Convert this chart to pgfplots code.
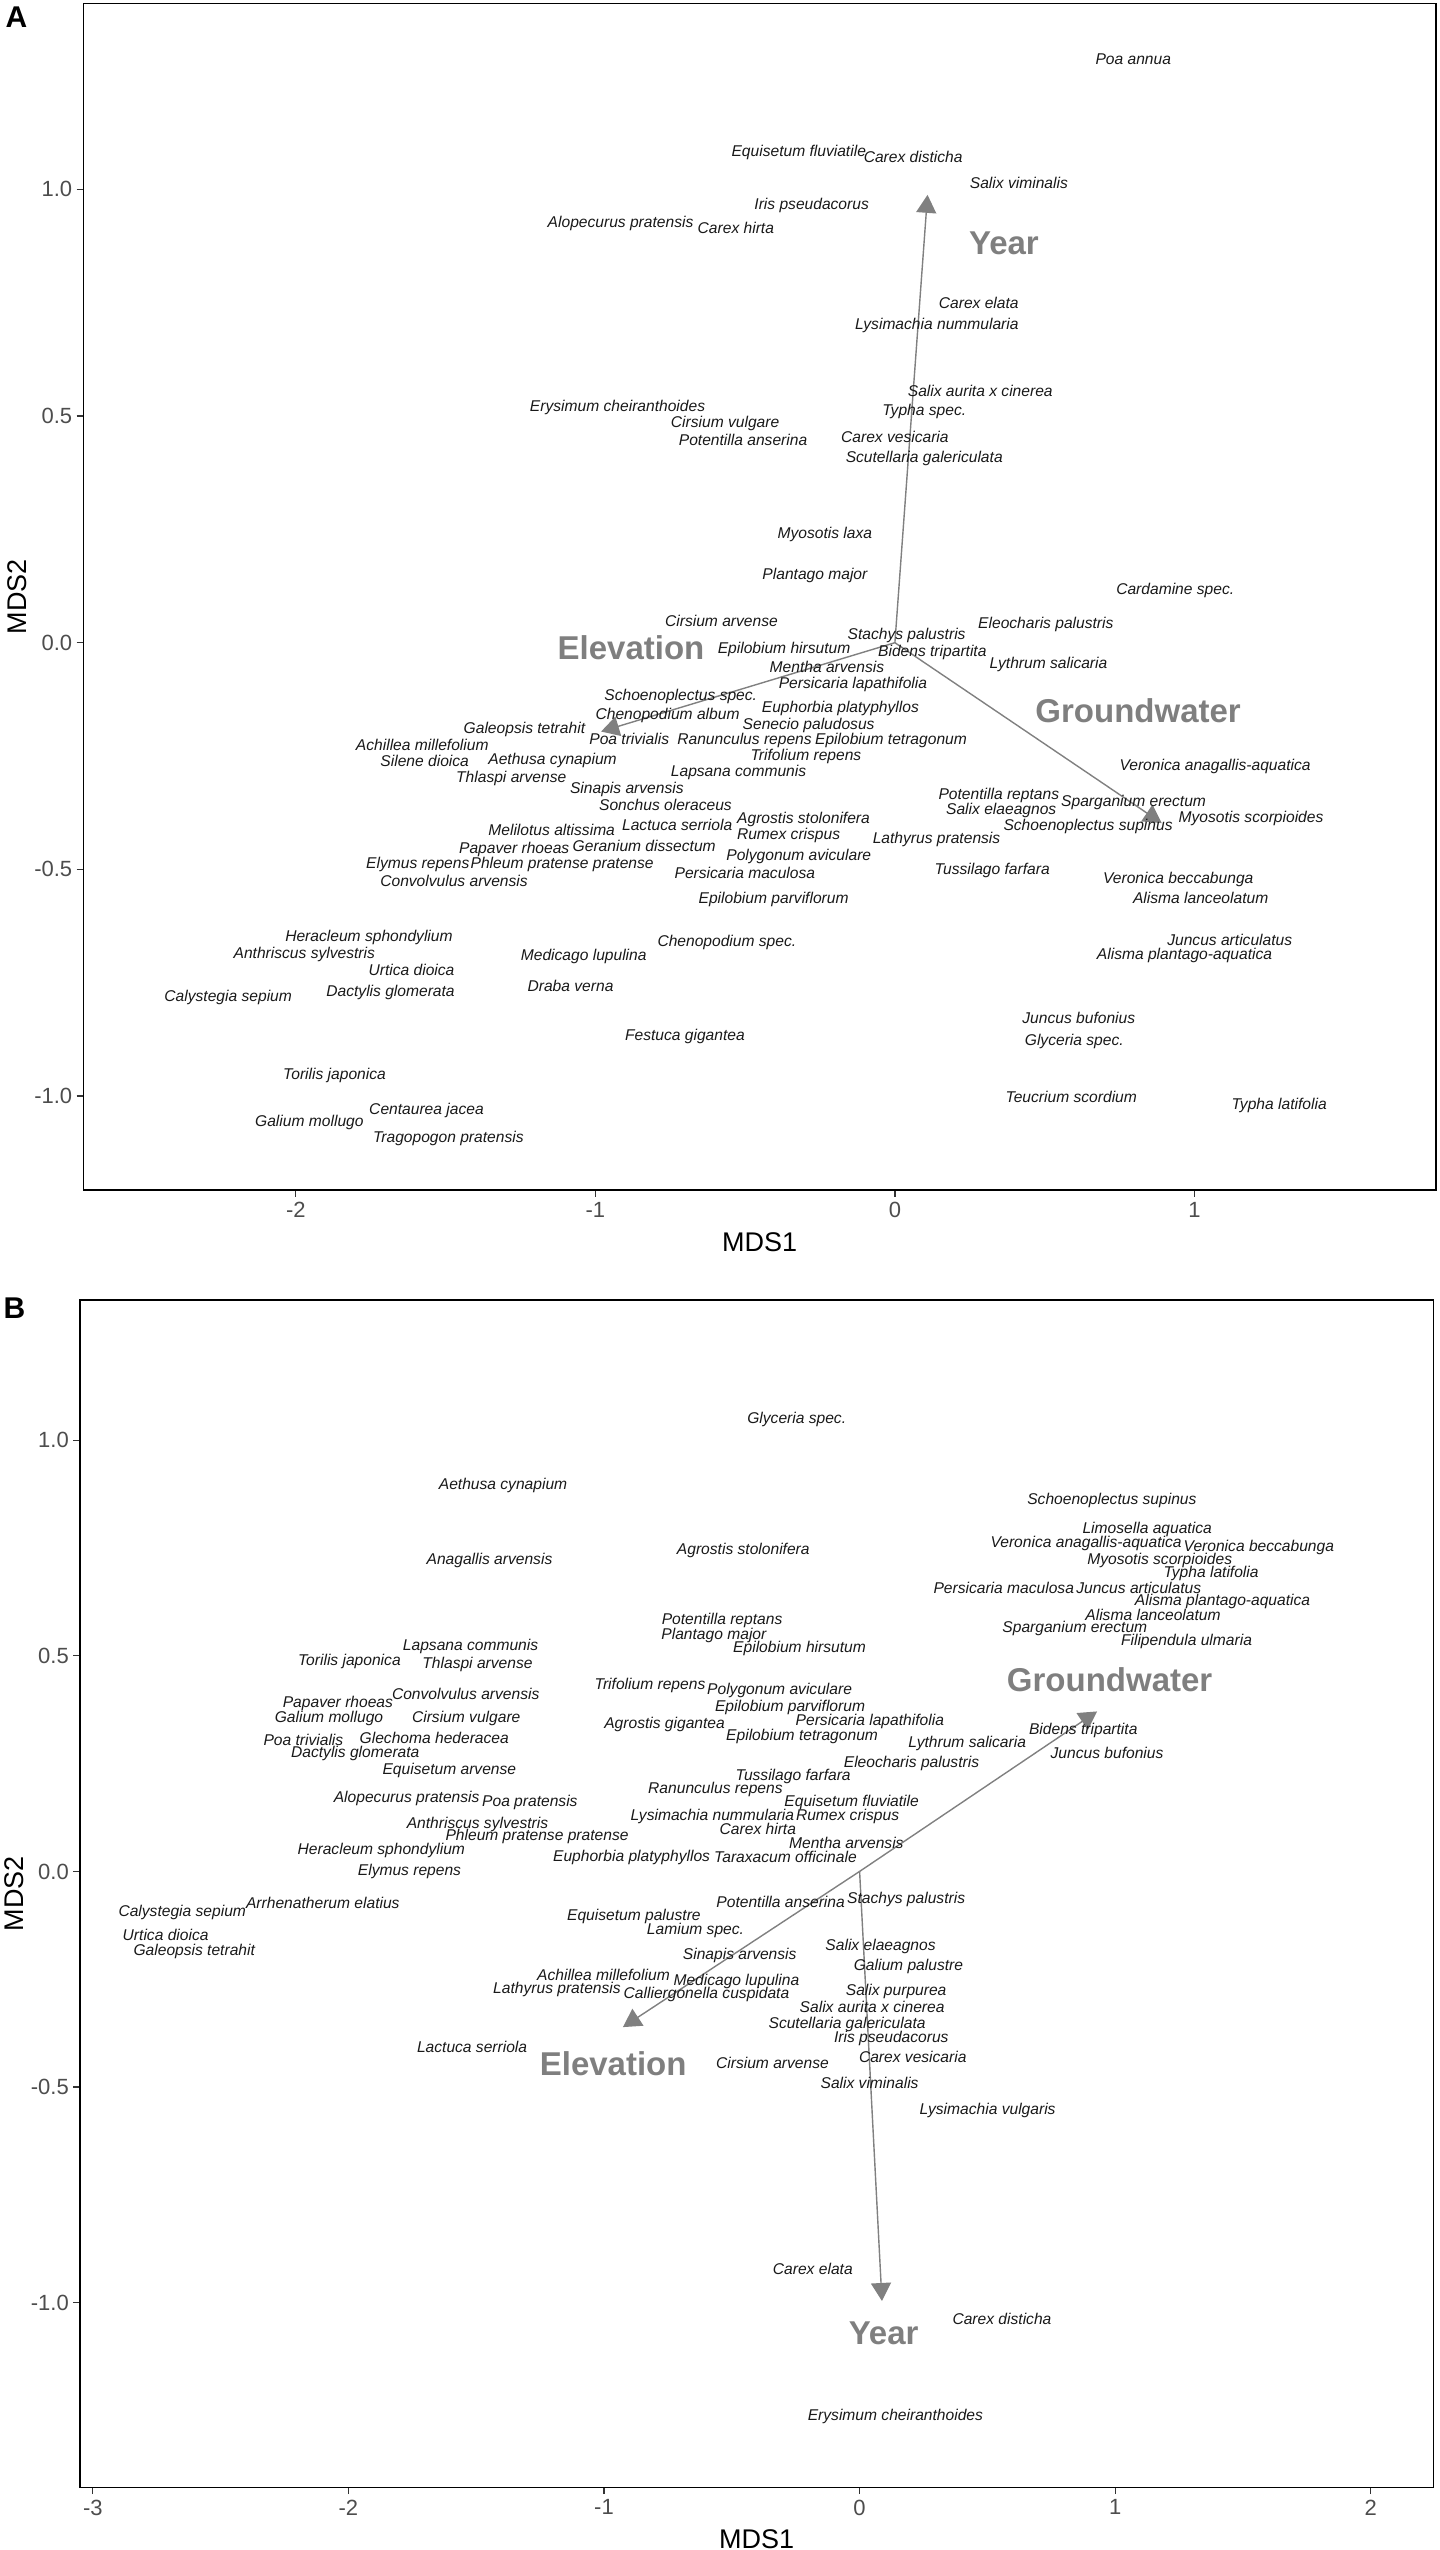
\documentclass[border=0pt]{standalone}
\usepackage{pgfplots}
\pgfplotsset{compat=1.18}
\usepackage{pgfplotstable}
\usepackage{fontspec}
\setmainfont{Liberation Sans}
\usetikzlibrary{arrows.meta}
\definecolor{arrowgray}{HTML}{808080}
\definecolor{labgray}{HTML}{7F7F7F}
\definecolor{tickgray}{HTML}{4D4D4D}

\pgfplotstableread[col sep=comma,row sep=\\]{
x,y,name\\
-0.916,0.924,Alopecurus pratensis\\
-0.531,0.915,Carex hirta\\
-0.321,1.081,Equisetum fluviatile\\
0.061,1.071,Carex disticha\\
-0.278,0.964,Iris pseudacorus\\
0.414,1.015,Salix viminalis\\
0.796,1.287,Poa annua\\
-0.926,0.519,Erysimum cheiranthoides\\
-0.567,0.484,Cirsium vulgare\\
-0.507,0.447,Potentilla anserina\\
0.285,0.556,Salix aurita x cinerea\\
0.098,0.510,Typha spec.\\
0.280,0.749,Carex elata\\
0.140,0.699,Lysimachia nummularia\\
0.000,0.455,Carex vesicaria\\
0.098,0.407,Scutellaria galericulata\\
-0.234,0.239,Myosotis laxa\\
-0.267,0.149,Plantago major\\
0.936,0.115,Cardamine spec.\\
0.504,0.041,Eleocharis palustris\\
0.039,0.016,Stachys palustris\\
0.125,-0.021,Bidens tripartita\\
0.513,-0.049,Lythrum salicaria\\
-0.579,0.047,Cirsium arvense\\
-0.370,-0.016,Epilobium hirsutum\\
-0.227,-0.054,Mentha arvensis\\
-0.140,-0.092,Persicaria lapathifolia\\
-0.715,-0.118,Schoenoplectus spec.\\
-0.182,-0.146,Euphorbia platyphyllos\\
-0.759,-0.160,Chenopodium album\\
-0.288,-0.182,Senecio paludosus\\
-1.237,-0.191,Galeopsis tetrahit\\
-0.887,-0.213,Poa trivialis\\
-0.502,-0.216,Ranunculus repens\\
-0.013,-0.216,Epilobium tetragonum\\
-1.578,-0.226,Achillea millefolium\\
-0.297,-0.250,Trifolium repens\\
-1.570,-0.260,Silene dioica\\
-1.143,-0.260,Aethusa cynapium\\
-0.522,-0.287,Lapsana communis\\
-1.281,-0.300,Thlaspi arvense\\
-0.895,-0.323,Sinapis arvensis\\
-0.766,-0.359,Sonchus oleraceus\\
1.069,-0.272,Veronica anagallis-aquatica\\
0.347,-0.338,Potentilla reptans\\
0.797,-0.353,Sparganium erectum\\
0.355,-0.371,Salix elaeagnos\\
1.189,-0.387,Myosotis scorpioides\\
0.645,-0.406,Schoenoplectus supinus\\
-0.305,-0.390,Agrostis stolonifera\\
-0.727,-0.402,Lactuca serriola\\
-1.146,-0.413,Melilotus altissima\\
-0.355,-0.426,Rumex crispus\\
0.139,-0.434,Lathyrus pratensis\\
-1.271,-0.457,Papaver rhoeas\\
-0.837,-0.449,Geranium dissectum\\
-0.321,-0.472,Polygonum aviculare\\
0.325,-0.503,Tussilago farfara\\
-1.593,-0.490,Elymus repens\\
-1.111,-0.490,Phleum pratense pratense\\
-0.501,-0.509,Persicaria maculosa\\
0.946,-0.522,Veronica beccabunga\\
-1.472,-0.525,Convolvulus arvensis\\
1.021,-0.562,Alisma lanceolatum\\
-0.405,-0.566,Epilobium parviflorum\\
-1.756,-0.650,Heracleum sphondylium\\
-0.561,-0.662,Chenopodium spec.\\
1.118,-0.656,Juncus articulatus\\
-1.972,-0.687,Anthriscus sylvestris\\
-1.039,-0.693,Medicago lupulina\\
0.967,-0.691,Alisma plantago-aquatica\\
-1.614,-0.721,Urtica dioica\\
-1.083,-0.757,Draba verna\\
-1.684,-0.772,Dactylis glomerata\\
-2.226,-0.783,Calystegia sepium\\
0.614,-0.827,Juncus bufonius\\
-0.701,-0.868,Festuca gigantea\\
0.599,-0.879,Glyceria spec.\\
-1.871,-0.955,Torilis japonica\\
0.589,-1.003,Teucrium scordium\\
1.283,-1.022,Typha latifolia\\
-1.564,-1.031,Centaurea jacea\\
-1.955,-1.059,Galium mollugo\\
-1.491,-1.093,Tragopogon pratensis\\
}\tabA

\pgfplotstableread[col sep=comma,row sep=\\]{
x,y,name\\
-0.246,1.048,Glyceria spec.\\
-1.395,0.896,Aethusa cynapium\\
-1.448,0.722,Anagallis arvensis\\
-0.455,0.745,Agrostis stolonifera\\
0.987,0.859,Schoenoplectus supinus\\
1.125,0.794,Limosella aquatica\\
0.886,0.761,Veronica anagallis-aquatica\\
1.562,0.751,Veronica beccabunga\\
1.174,0.720,Myosotis scorpioides\\
1.375,0.691,Typha latifolia\\
0.564,0.658,Persicaria maculosa\\
1.092,0.658,Juncus articulatus\\
1.420,0.626,Alisma plantago-aquatica\\
1.148,0.595,Alisma lanceolatum\\
0.842,0.564,Sparganium erectum\\
1.279,0.534,Filipendula ulmaria\\
-0.538,0.583,Potentilla reptans\\
-0.570,0.548,Plantago major\\
-0.235,0.516,Epilobium hirsutum\\
-1.522,0.521,Lapsana communis\\
-1.996,0.488,Torilis japonica\\
-1.495,0.479,Thlaspi arvense\\
-0.820,0.431,Trifolium repens\\
-0.313,0.4185,Polygonum aviculare\\
-1.541,0.411,Convolvulus arvensis\\
-2.041,0.390,Papaver rhoeas\\
-2.076,0.354,Galium mollugo\\
-1.539,0.354,Cirsium vulgare\\
-0.272,0.381,Epilobium parviflorum\\
-0.763,0.341,Agrostis gigantea\\
0.040,0.347,Persicaria lapathifolia\\
-0.225,0.313,Epilobium tetragonum\\
-2.176,0.306,Poa trivialis\\
-1.664,0.309,Glechoma hederacea\\
0.421,0.297,Lythrum salicaria\\
0.875,0.326,Bidens tripartita\\
0.968,0.274,Juncus bufonius\\
-1.973,0.274,Dactylis glomerata\\
0.203,0.251,Eleocharis palustris\\
-1.605,0.234,Equisetum arvense\\
-0.260,0.221,Tussilago farfara\\
-0.564,0.189,Ranunculus repens\\
-1.772,0.169,Alopecurus pratensis\\
-1.290,0.160,Poa pratensis\\
-0.031,0.160,Equisetum fluviatile\\
-0.576,0.127,Lysimachia nummularia\\
-0.047,0.127,Rumex crispus\\
-0.398,0.098,Carex hirta\\
-1.495,0.110,Anthriscus sylvestris\\
-1.262,0.082,Phleum pratense pratense\\
-0.052,0.065,Mentha arvensis\\
-1.871,0.048,Heracleum sphondylium\\
-0.892,0.033,Euphorbia platyphyllos\\
-0.290,0.034,Taraxacum officinale\\
-1.761,0.000,Elymus repens\\
-0.309,-0.071,Potentilla anserina\\
0.182,-0.065,Stachys palustris\\
-2.100,-0.074,Arrhenatherum elatius\\
-2.650,-0.094,Calystegia sepium\\
-0.883,-0.105,Equisetum palustre\\
-0.642,-0.137,Lamium spec.\\
-2.715,-0.147,Urtica dioica\\
0.082,-0.173,Salix elaeagnos\\
-2.603,-0.186,Galeopsis tetrahit\\
-0.469,-0.194,Sinapis arvensis\\
0.191,-0.221,Galium palustre\\
-1.002,-0.241,Achillea millefolium\\
-0.482,-0.255,Medicago lupulina\\
-1.184,-0.273,Lathyrus pratensis\\
-0.599,-0.286,Calliergonella cuspidata\\
0.143,-0.279,Salix purpurea\\
0.049,-0.315,Salix aurita x cinerea\\
-0.049,-0.354,Scutellaria galericulata\\
0.124,-0.387,Iris pseudacorus\\
-1.516,-0.408,Lactuca serriola\\
-0.341,-0.445,Cirsium arvense\\
0.208,-0.429,Carex vesicaria\\
0.039,-0.491,Salix viminalis\\
0.501,-0.554,Lysimachia vulgaris\\
-0.183,-0.922,Carex elata\\
0.557,-1.038,Carex disticha\\
0.140,-1.263,Erysimum cheiranthoides\\
}\tabB

\pgfplotsset{
  mdsaxis/.style={
    scale only axis,
    anchor=south west,
    axis line style={black, line width=0.6bp},
    tick align=outside,
    major tick length=3.4bp,
    tick style={black!80, line width=0.6bp},
    xtick pos=bottom, ytick pos=left,
    ytick={-1,-0.5,0,0.5,1},
    yticklabels={-1.0,-0.5,0.0,0.5,1.0},
    ticklabel style={font=\fontsize{11bp}{13bp}\selectfont, text=tickgray},
    xticklabel style={inner sep=0pt, anchor=north, yshift=-2.6bp},
    yticklabel style={inner sep=0pt, anchor=east, xshift=-2.0bp},
    label style={font=\fontsize{13.5bp}{15bp}\selectfont, text=black},
    xlabel={MDS1}, ylabel={MDS2},
    xlabel style={at={(axis description cs:0.5,-0.0438)}, anchor=center},
    ylabel style={at={(axis description cs:-0.0488,0.5)}, anchor=center},
  },
  specs/.style={
    only marks, mark=text, text mark={},
    point meta=explicit symbolic, nodes near coords,
    every node near coord/.append style={anchor=center, inner sep=0pt,
      font=\itshape\fontsize{7.8bp}{9bp}\selectfont, text=black!90},
  },
  grp/.style={
    only marks, mark=text, text mark={},
    point meta=explicit symbolic, nodes near coords,
    every node near coord/.append style={anchor=center, inner sep=0pt,
      font=\bfseries\fontsize{16.5bp}{18bp}\selectfont, text=labgray},
  },
  arr/.style={arrowgray, line width=0.7bp, -{Triangle[length=9bp,width=10bp]}},
}

\begin{document}
\begin{tikzpicture}
\useasboundingbox (0,0) rectangle (720bp,1275bp);

% Panel A
\begin{axis}[mdsaxis,
  at={(41.7bp,680bp)}, width=676.3bp, height=593.35bp,
  xmin=-2.7095, xmax=1.8067, ymin=-1.2074, ymax=1.4106,
  xtick={-2,-1,0,1}, xticklabels={-2,-1,0,1},
]
\addplot[arr] coordinates {(0,0) (0.109,0.988)};
\addplot[arr] coordinates {(0,0) (-0.981,-0.196)};
\addplot[arr] coordinates {(0,0) (0.891,-0.398)};
\addplot[specs] table[x=x, y=y, meta=name] {\tabA};
\addplot[grp] coordinates {(0.364,0.881) [Year] (-0.881,-0.011) [Elevation] (0.812,-0.151) [Groundwater]};
\end{axis}

% Panel B
\begin{axis}[mdsaxis,
  at={(40bp,31.35bp)}, width=676.65bp, height=593.65bp,
  xmin=-3.050, xmax=2.2445, ymin=-1.428, ymax=1.325,
  xtick={-3,-2,-1,0,1,2}, xticklabels={-3,-2,-1,0,1,2},
]
\addplot[arr] coordinates {(0,0) (0.929,0.371)};
\addplot[arr] coordinates {(0,0) (-0.926,-0.361)};
\addplot[arr] coordinates {(0,0) (0.0875,-0.996)};
\addplot[specs] table[x=x, y=y, meta=name] {\tabB};
\addplot[grp] coordinates {(0.978,0.444) [Groundwater] (-0.964,-0.446) [Elevation] (0.094,-1.071) [Year]};
\end{axis}

\node[font=\bfseries\fontsize{15bp}{17bp}\selectfont, anchor=center] at (8.25bp,1266.25bp) {A};
\node[font=\bfseries\fontsize{15bp}{17bp}\selectfont, anchor=center] at (7.25bp,620.75bp) {B};
\end{tikzpicture}
\end{document}
